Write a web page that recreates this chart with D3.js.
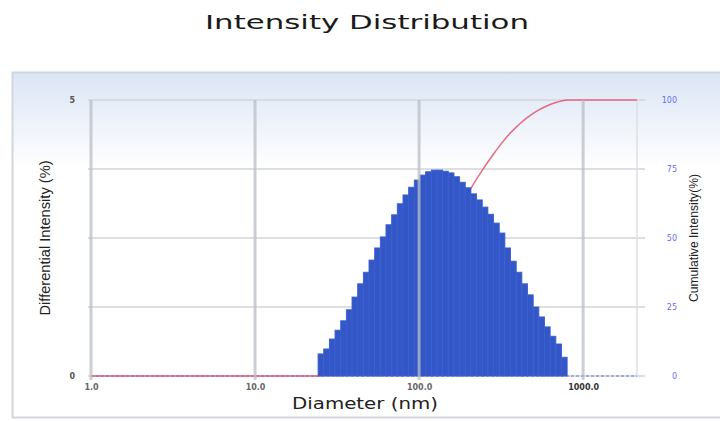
<!DOCTYPE html>
<html>
<head>
<meta charset="utf-8">
<script src="https://cdn.jsdelivr.net/npm/d3@7"></script>
<style>
  body { margin: 0; background: #fff; }
  svg { display: block; }
</style>
</head>
<body>
<div id="chart"></div>
<script>
// bin edges (nm), log spaced
var binEdges = [24.22, 26.22, 28.39, 30.73, 33.28, 36.03, 39.01, 42.23, 45.73, 49.51,
  53.60, 58.03, 62.84, 68.03, 73.66, 79.78, 86.37, 93.51, 101.2, 109.6,
  118.7, 128.5, 139.1, 150.6, 163.1, 176.6, 191.2, 207.0, 224.1, 242.7,
  262.7, 284.5, 308.0, 333.4, 361.0, 390.9, 423.2, 458.2, 496.1, 537.0,
  581.5, 629.5, 681.6, 737.9, 798.9];

// differential intensity (%) per bin
var intensity = [0.40, 0.49, 0.67, 0.83, 1.00, 1.20, 1.43, 1.67, 1.88, 2.10,
  2.32, 2.52, 2.74, 2.92, 3.12, 3.28, 3.42, 3.55, 3.64, 3.70,
  3.73, 3.73, 3.71, 3.68, 3.61, 3.51, 3.41, 3.30, 3.19, 3.06,
  2.93, 2.77, 2.59, 2.32, 2.08, 1.88, 1.67, 1.47, 1.25, 1.07,
  0.89, 0.72, 0.58, 0.34];

var xTicks = [1, 10, 100, 1000];
var leftTicks = [0, 5];
var rightTicks = [0, 25, 50, 75, 100];
var gridTicks = [0, 1.25, 2.5, 3.75, 5];
var xExtent = [1, 2130];

var W = 720, H = 421;
var margin = {top: 100, right: 83, bottom: 45, left: 91},
  width = W - margin.left - margin.right,
  height = H - margin.top - margin.bottom;

var svg = d3.select("#chart").append("svg")
  .attr("width", W)
  .attr("height", H);

// panel background with light blue gradient at top
var defs = svg.append("defs");
var grad = defs.append("linearGradient")
  .attr("id", "panelGrad")
  .attr("x1", 0).attr("y1", 0).attr("x2", 0).attr("y2", 1);
grad.append("stop").attr("offset", "0%").attr("stop-color", "#dbe5f5");
grad.append("stop").attr("offset", "28%").attr("stop-color", "#ffffff");
grad.append("stop").attr("offset", "100%").attr("stop-color", "#ffffff");

svg.append("rect")
  .attr("x", 12.5).attr("y", 72.5)
  .attr("width", 720).attr("height", 345)
  .attr("fill", "url(#panelGrad)")
  .attr("stroke", "#d3d6db")
  .attr("stroke-width", 2);

// title
svg.append("text")
  .attr("x", 367).attr("y", 29)
  .attr("text-anchor", "middle")
  .attr("textLength", 324)
  .attr("lengthAdjust", "spacingAndGlyphs")
  .style("font-family", "DejaVu Sans, Verdana, sans-serif")
  .style("font-size", "20px")
  .style("fill", "#1a1a1a")
  .text("Intensity Distribution");

var g = svg.append("g")
  .attr("transform", "translate(" + margin.left + "," + margin.top + ")");

var x = d3.scaleLog().domain(xExtent).range([0, width]);
var y = d3.scaleLinear().domain([0, 5]).range([height, 0]);
var y2 = d3.scaleLinear().domain([0, 100]).range([height, 0]);

// horizontal grid
g.append("g").selectAll("line")
  .data(gridTicks)
  .join("line")
  .attr("x1", -3).attr("x2", width + 8)
  .attr("y1", d => y(d)).attr("y2", d => y(d))
  .attr("stroke", "#d2d4d7")
  .attr("stroke-width", 1.5);

// right edge of the plot
g.append("line")
  .attr("x1", width).attr("x2", width)
  .attr("y1", 0).attr("y2", height)
  .attr("stroke", "#dcdfe3")
  .attr("stroke-width", 1.5);

// bins
var bins = intensity.map(function(v, i) {
  return {x0: binEdges[i], x1: binEdges[i + 1], value: v};
});

// cumulative curve
var total = d3.sum(intensity);
var run = 0;
var cumul = [{d: xExtent[0], c: 0}, {d: binEdges[0], c: 0}];
bins.forEach(function(b) {
  run += b.value;
  cumul.push({d: b.x1, c: run / total * 100});
});
cumul.push({d: xExtent[1], c: 100});

// zero line of differential series
g.append("line")
  .attr("x1", 0).attr("x2", width)
  .attr("y1", y(0)).attr("y2", y(0))
  .attr("stroke", "#8a98e8")
  .attr("stroke-width", 1.5)
  .attr("stroke-dasharray", "3,2");

var line = d3.line()
  .x(d => x(d.d))
  .y(d => y2(d.c))
  .curve(d3.curveMonotoneX);

g.append("path")
  .datum(cumul)
  .attr("fill", "none")
  .attr("stroke", "#e6506f")
  .attr("stroke-opacity", 0.85)
  .attr("stroke-width", 1.5)
  .attr("d", line);

g.append("g").selectAll("rect")
  .data(bins)
  .join("rect")
  .attr("x", d => x(d.x0))
  .attr("width", d => x(d.x1) - x(d.x0))
  .attr("y", d => y(d.value))
  .attr("height", d => y(0) - y(d.value))
  .attr("fill", "#3457c8")
  .attr("stroke", "#3b5fd0")
  .attr("stroke-width", 0.9);

// vertical decade grid, on top of the bars
g.append("g").selectAll("line")
  .data(xTicks)
  .join("line")
  .attr("x1", d => x(d)).attr("x2", d => x(d))
  .attr("y1", 0).attr("y2", height + 4)
  .attr("stroke", "#b9bec6")
  .attr("stroke-opacity", 0.75)
  .attr("stroke-width", 3);

// x axis labels
var xAxis = g.append("g")
  .attr("transform", "translate(0," + height + ")")
  .call(d3.axisBottom(x).tickValues(xTicks).tickFormat(d3.format(".1f")).tickSize(0).tickPadding(8));
xAxis.select(".domain").remove();
xAxis.selectAll("text")
  .style("font-family", "DejaVu Sans, Verdana, sans-serif")
  .style("font-size", "8px")
  .style("font-weight", "bold")
  .style("fill", d => d === 1000 ? "#333" : "#666");

// left axis labels
var yAxis = g.append("g")
  .call(d3.axisLeft(y).tickValues(leftTicks).tickFormat(d3.format("d")).tickSize(0).tickPadding(16));
yAxis.select(".domain").remove();
yAxis.selectAll("text")
  .style("font-family", "DejaVu Sans, Verdana, sans-serif")
  .style("font-size", "8px")
  .style("font-weight", "bold")
  .style("fill", "#555");

// right axis labels
var yAxis2 = g.append("g")
  .attr("transform", "translate(" + width + ",0)")
  .call(d3.axisRight(y2).tickValues(rightTicks).tickFormat(d3.format("d")).tickSize(0));
yAxis2.select(".domain").remove();
yAxis2.selectAll("text")
  .attr("x", 40)
  .attr("text-anchor", "end")
  .style("font-family", "DejaVu Sans, Verdana, sans-serif")
  .style("font-size", "8px")
  .style("fill", "#6a6cf5");

// axis titles
svg.append("text")
  .attr("x", 365).attr("y", 409)
  .attr("text-anchor", "middle")
  .attr("textLength", 146)
  .attr("lengthAdjust", "spacingAndGlyphs")
  .style("font-family", "DejaVu Sans, Verdana, sans-serif")
  .style("font-size", "15px")
  .style("fill", "#222")
  .text("Diameter (nm)");

svg.append("text")
  .attr("transform", "translate(50,238) rotate(-90)")
  .attr("text-anchor", "middle")
  .attr("textLength", 155)
  .attr("lengthAdjust", "spacingAndGlyphs")
  .style("font-family", "Liberation Sans Narrow, Liberation Sans, sans-serif")
  .style("font-size", "14px")
  .style("fill", "#222")
  .text("Differential Intensity (%)");

svg.append("text")
  .attr("transform", "translate(698,238) rotate(-90)")
  .attr("text-anchor", "middle")
  .attr("textLength", 128)
  .attr("lengthAdjust", "spacingAndGlyphs")
  .style("font-family", "Liberation Sans Narrow, Liberation Sans, sans-serif")
  .style("font-size", "12px")
  .style("fill", "#222")
  .text("Cumulative Intensity(%)");
</script>
</body>
</html>
